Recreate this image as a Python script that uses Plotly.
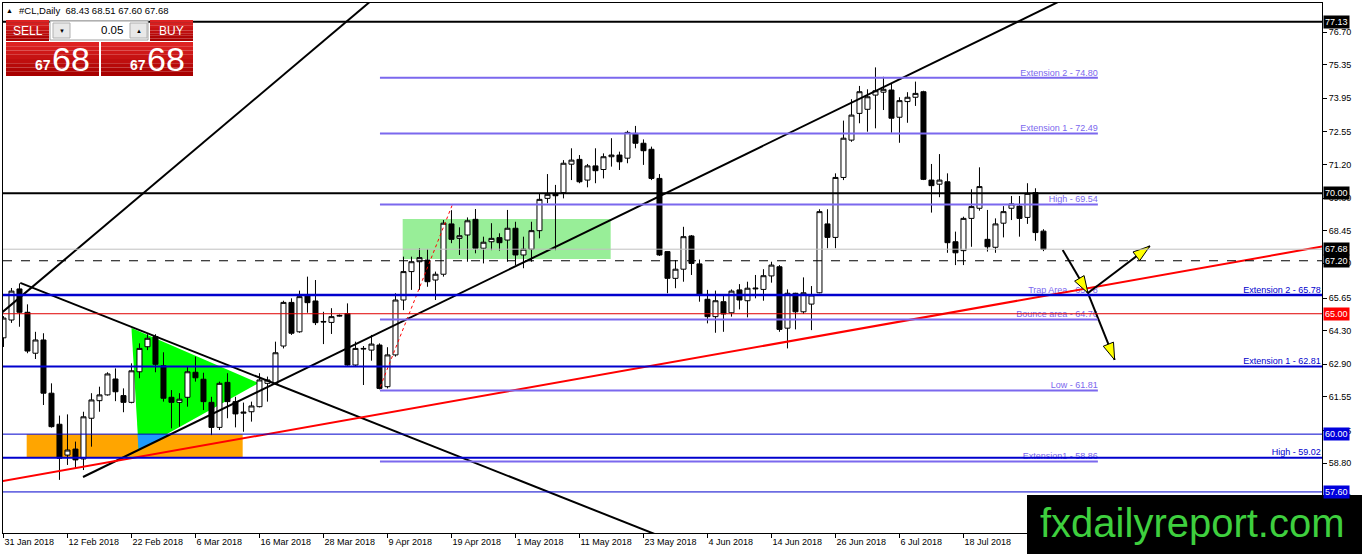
import plotly.graph_objects as go

# #CL daily, one bar per weekday: bar 0 = 31 Jan 2018 ... bar 130 = 1 Aug 2018
opens = [
    64.00, 64.74, 66.03, 65.06, 63.36, 63.91, 61.70, 60.41, 59.13, 59.38,
    58.97, 60.66, 61.39, 61.63, 62.29, 61.60, 61.32, 62.59, 63.63, 64.05,
    62.84, 61.53, 61.32, 61.53, 62.57, 62.28, 61.32, 60.28, 62.15, 61.35,
    60.87, 60.93, 61.14, 62.11, 62.11, 63.66, 65.47, 64.25, 65.78, 65.53,
    64.68, 64.64, 64.90, 65.01, 62.87, 63.56, 63.49, 63.70, 61.97, 63.29,
    65.57, 66.75, 67.16, 67.23, 66.40, 66.64, 68.73, 68.13, 68.27, 68.92,
    67.72, 67.99, 68.16, 68.06, 68.55, 67.44, 67.68, 68.45, 69.79, 69.98,
    70.03, 71.21, 71.41, 70.55, 71.14, 70.99, 71.52, 71.59, 71.46, 72.49,
    72.08, 71.83, 70.62, 67.58, 66.47, 66.85, 68.23, 67.07, 65.60, 64.88,
    65.50, 65.04, 65.99, 65.54, 66.03, 66.01, 66.57, 66.95, 64.40, 65.85,
    65.08, 65.40, 65.87, 68.73, 68.17, 70.66, 72.21, 73.32, 73.49, 74.08,
    74.20, 74.29, 73.16, 73.81, 73.99, 74.22, 70.55, 70.38, 70.48, 67.99,
    67.62, 68.96, 69.38, 68.09, 67.76, 68.76, 69.38, 69.47, 69.00, 70.03,
    68.43,
]
highs = [
    64.90, 66.07, 66.26, 65.39, 64.25, 64.19, 62.11, 60.77, 60.82, 59.69,
    60.93, 61.70, 61.97, 62.57, 62.73, 61.90, 62.94, 63.77, 64.15, 64.15,
    63.40, 61.83, 61.70, 62.80, 63.22, 62.55, 61.55, 62.18, 62.53, 61.55,
    61.31, 61.35, 62.53, 62.39, 63.84, 65.54, 65.64, 65.96, 66.54, 66.40,
    65.08, 65.23, 64.97, 65.43, 63.84, 63.66, 64.12, 63.77, 63.61, 65.85,
    67.37, 67.37, 67.72, 67.68, 66.75, 68.89, 69.30, 68.59, 69.00, 69.35,
    68.20, 68.76, 68.34, 69.31, 68.82, 68.20, 68.82, 70.00, 70.80, 70.35,
    71.38, 71.87, 71.59, 71.22, 71.87, 71.66, 72.29, 71.73, 72.60, 72.80,
    72.24, 71.94, 70.80, 67.58, 67.23, 68.61, 68.27, 67.25, 65.99, 65.96,
    65.78, 66.01, 66.23, 66.33, 66.61, 66.85, 67.16, 67.02, 66.01, 65.87,
    66.51, 66.15, 69.34, 69.34, 70.83, 73.02, 73.91, 74.46, 74.32, 75.23,
    74.84, 74.54, 73.99, 74.20, 74.64, 74.26, 71.22, 71.63, 70.83, 68.41,
    69.03, 70.17, 71.08, 69.31, 68.96, 69.47, 69.89, 69.89, 70.42, 70.21,
    68.51,
]
lows = [
    63.62, 64.62, 64.46, 63.36, 63.12, 61.21, 60.27, 58.10, 58.72, 58.58,
    58.51, 59.48, 60.93, 61.60, 61.37, 60.91, 61.28, 62.32, 63.49, 62.57,
    61.35, 60.24, 60.31, 61.14, 62.18, 61.00, 59.96, 60.17, 60.66, 60.28,
    60.10, 60.52, 61.11, 61.35, 62.04, 63.56, 64.12, 64.21, 65.04, 64.53,
    63.74, 64.16, 64.88, 62.84, 62.83, 62.04, 63.05, 61.86, 61.90, 63.22,
    65.15, 65.99, 65.99, 66.12, 65.57, 66.54, 67.93, 67.44, 67.16, 67.51,
    67.09, 67.64, 67.62, 67.16, 67.02, 66.89, 67.16, 68.13, 69.59, 67.64,
    69.79, 70.55, 70.42, 70.25, 70.42, 70.62, 71.11, 70.97, 71.25, 71.87,
    71.18, 70.55, 67.40, 65.85, 66.06, 66.33, 66.61, 65.50, 64.60, 64.21,
    64.25, 64.88, 65.18, 64.85, 65.64, 65.54, 66.29, 64.25, 63.56, 64.35,
    64.99, 64.32, 65.85, 67.72, 67.72, 70.55, 72.14, 72.91, 72.56, 72.70,
    73.46, 72.52, 72.10, 72.93, 73.63, 70.55, 69.20, 69.84, 67.53, 67.02,
    67.02, 67.78, 69.28, 67.58, 67.53, 68.17, 68.89, 68.20, 68.73, 68.03,
    67.60,
]
closes = [
    64.82, 65.94, 65.06, 63.45, 63.91, 61.70, 60.31, 59.00, 59.34, 58.93,
    60.72, 61.42, 61.63, 62.50, 61.76, 61.32, 62.63, 63.56, 63.98, 62.90,
    61.49, 61.32, 61.45, 62.59, 62.34, 61.35, 60.28, 62.11, 61.35, 60.84,
    60.91, 61.17, 62.25, 62.25, 63.38, 65.47, 64.19, 65.71, 65.46, 64.63,
    64.66, 64.88, 64.93, 62.87, 63.56, 63.54, 63.74, 61.90, 63.29, 65.57,
    66.75, 67.16, 67.33, 66.33, 66.64, 68.76, 68.09, 68.24, 68.86, 67.72,
    67.97, 68.13, 67.95, 68.55, 67.44, 67.68, 68.45, 69.75, 69.96, 69.90,
    71.25, 71.38, 70.48, 71.14, 70.94, 71.52, 71.59, 71.31, 72.53, 72.08,
    71.77, 70.62, 67.44, 66.47, 66.85, 68.20, 67.09, 65.78, 64.88, 65.54,
    64.99, 65.94, 65.57, 66.06, 66.06, 66.58, 67.02, 64.35, 65.85, 65.08,
    65.87, 65.78, 69.24, 68.17, 70.66, 72.29, 73.25, 74.22, 74.01, 74.26,
    74.32, 73.12, 73.85, 73.99, 74.15, 70.58, 70.32, 70.55, 67.95, 67.53,
    68.96, 69.45, 70.28, 67.78, 68.73, 69.24, 69.56, 68.96, 70.00, 68.37,
    67.68,
]
bars = list(range(len(opens)))

tick_bars = [0, 8, 16, 24, 32, 40, 48, 56, 64, 72, 80, 88, 96, 104, 112, 120]
tick_labels = ["31 Jan 2018", "12 Feb 2018", "22 Feb 2018", "6 Mar 2018", "16 Mar 2018",
               "28 Mar 2018", "9 Apr 2018", "19 Apr 2018", "1 May 2018", "11 May 2018",
               "23 May 2018", "4 Jun 2018", "14 Jun 2018", "26 Jun 2018", "6 Jul 2018",
               "18 Jul 2018"]
price_ticks = [76.70, 75.35, 73.95, 72.55, 71.20, 69.80, 68.45, 67.10, 65.65, 64.30,
               62.90, 61.55, 60.15, 58.80, 57.40]

# fib levels (purple, drawn over part of the chart)
fib_levels = [74.80, 72.49, 69.54, 65.78, 64.76, 61.81, 58.86]
fib_names = ["Extension 2", "Extension 1", "High", "Trap Area", "Bounce area", "Low", "Extension1"]
fib_from, fib_to = 47.06, 136.8

# full width levels
blue_levels = [65.78, 62.81, 60.00, 59.02, 57.60]
blue_widths = [2.5, 2, 1, 2, 1]
blue_names = ["Extension 2", "Extension 1", "", "High", ""]
black_levels = [77.13, 70.00]
red_level = 65.00
last_price = 67.68
dash_level = 67.20

tag_prices = [77.13, 70.00, 67.68, 67.20, 65.00, 60.00, 57.60]
tag_colors = ["black", "black", "black", "black", "#ff0000", "#0000dd", "#0000dd"]

# trend lines: [bar, bar], [price, price]
steep_x, steep_y = [-0.4, 46.0], [64.99, 78.01]
fall_x, fall_y = [2.1, 81.5], [66.28, 55.84]
rise_x, rise_y = [9.94, 131.8], [58.22, 77.94]
red_x, red_y = [-0.4, 165.0], [58.03, 67.80]
dots_x, dots_y = [47.1, 56.1], [61.97, 69.52]

# filled zones
orange_x, orange_y = [2.9, 29.9], [59.02, 60.00]
lgreen_x, lgreen_y = [49.9, 75.9], [67.27, 68.93]
tri_x, tri_y = [16.0, 16.9, 31.9], [64.41, 59.35, 62.12]
blue_tri_x, blue_tri_y = [16.75, 20.8, 16.9], [60.00, 60.00, 59.35]

# arrows: start bar, start price, tip bar, tip price
arrows = [
    (132.4, 67.65, 135.56, 65.86),
    (135.56, 65.86, 143.3, 67.81),
    (135.56, 65.86, 138.9, 63.08),
]

# screen geometry of the MT4 window
W, H = 1362, 554
PL, PR, PT, PB = 3, 1322, 3, 533
PX_BAR = 8.0
PX_USD = 24.08
x_lo = -0.06
x_hi = x_lo + (PR - PL) / PX_BAR
y_hi = 76.70 + (32 - PT) / PX_USD
y_lo = 76.70 - (PB - 32) / PX_USD


def pxx(p):
    return (p - PL) / (PR - PL)


def pxy(p):
    return (PB - p) / (PB - PT)


PURPLE = "#7b68ee"
BLUE = "#0000cd"
FONT = "Liberation Sans"

fig = go.Figure()

fig.add_trace(go.Candlestick(
    x=bars, open=opens, high=highs, low=lows, close=closes,
    increasing=dict(line=dict(color="black", width=1), fillcolor="white"),
    decreasing=dict(line=dict(color="black", width=1), fillcolor="black"),
    whiskerwidth=0, showlegend=False, name="#CL"))

# fib labels (as text traces so lines can cross them)
fig.add_trace(go.Scatter(
    x=[fib_to] * len(fib_levels), y=fib_levels, mode="text",
    text=[f"{n} - {v:.2f}" for n, v in zip(fib_names, fib_levels)],
    textposition="top left", textfont=dict(family=FONT, size=9, color=PURPLE),
    showlegend=False, hoverinfo="skip"))
bl = [(n, v) for n, v in zip(blue_names, blue_levels) if n]
fig.add_trace(go.Scatter(
    x=[x_hi - 0.15] * len(bl), y=[v for n, v in bl], mode="text",
    text=[f"{n} - {v:.2f}" for n, v in bl],
    textposition="top left", textfont=dict(family=FONT, size=9, color=BLUE),
    showlegend=False, hoverinfo="skip"))

# trend lines
for lx, ly in [(steep_x, steep_y), (fall_x, fall_y), (rise_x, rise_y)]:
    fig.add_trace(go.Scatter(x=lx, y=ly, mode="lines", line=dict(color="black", width=2),
                             showlegend=False, hoverinfo="skip"))
fig.add_trace(go.Scatter(x=red_x, y=red_y, mode="lines", line=dict(color="#ff0000", width=2),
                         showlegend=False, hoverinfo="skip"))
fig.add_trace(go.Scatter(x=dots_x, y=dots_y, mode="lines",
                         line=dict(color="#ff0000", width=1, dash="dot"),
                         showlegend=False, hoverinfo="skip"))

# arrows with yellow heads
for x0, y0, x1, y1 in arrows:
    dx = (x1 - x0) * PX_BAR
    dy = (y1 - y0) * PX_USD
    n = (dx * dx + dy * dy) ** 0.5
    ux, uy = dx / n, dy / n
    nx, ny = -uy, ux
    L, Wd = 17, 11
    head = [(0, 0), (-L * ux + Wd / 2 * nx, -L * uy + Wd / 2 * ny),
            (-L * ux - Wd / 2 * nx, -L * uy - Wd / 2 * ny), (0, 0)]
    fig.add_trace(go.Scatter(x=[x0, x1], y=[y0, y1], mode="lines",
                             line=dict(color="black", width=2),
                             showlegend=False, hoverinfo="skip"))
    fig.add_trace(go.Scatter(x=[x1 + a / PX_BAR for a, b in head],
                             y=[y1 + b / PX_USD for a, b in head],
                             mode="lines", fill="toself", fillcolor="#ffff00",
                             line=dict(color="black", width=1),
                             showlegend=False, hoverinfo="skip"))

shapes = []
# background zones
shapes.append(dict(type="rect", xref="x", yref="y", x0=orange_x[0], x1=orange_x[1],
                   y0=orange_y[0], y1=orange_y[1], fillcolor="#ffa500", line=dict(width=0),
                   layer="below"))
shapes.append(dict(type="rect", xref="x", yref="y", x0=lgreen_x[0], x1=lgreen_x[1],
                   y0=lgreen_y[0], y1=lgreen_y[1], fillcolor="#98ee98", line=dict(width=0),
                   layer="below"))


def poly(xs, ys):
    return "M " + " L ".join(f"{a},{b}" for a, b in zip(xs, ys)) + " Z"


shapes.append(dict(type="path", xref="x", yref="y", path=poly(tri_x, tri_y),
                   fillcolor="#00ff00", line=dict(width=0), layer="below"))
shapes.append(dict(type="path", xref="x", yref="y", path=poly(blue_tri_x, blue_tri_y),
                   fillcolor="#1e9bff", line=dict(width=0), layer="below"))

# horizontal levels
shapes.append(dict(type="line", xref="paper", yref="y", x0=0, x1=1, y0=last_price, y1=last_price,
                   line=dict(color="#c0c0c0", width=1), layer="above"))
shapes.append(dict(type="line", xref="paper", yref="y", x0=0, x1=1, y0=dash_level, y1=dash_level,
                   line=dict(color="black", width=1, dash="dash"), layer="above"))
for v in fib_levels:
    shapes.append(dict(type="line", xref="x", yref="y", x0=fib_from, x1=fib_to, y0=v, y1=v,
                       line=dict(color=PURPLE, width=2), layer="above"))
shapes.append(dict(type="line", xref="paper", yref="y", x0=0, x1=1, y0=red_level, y1=red_level,
                   line=dict(color="#e00000", width=1), layer="above"))
for v, w in zip(blue_levels, blue_widths):
    shapes.append(dict(type="line", xref="paper", yref="y", x0=0, x1=1, y0=v, y1=v,
                       line=dict(color=BLUE, width=w), layer="above"))
for v in black_levels:
    shapes.append(dict(type="line", xref="paper", yref="y", x0=0, x1=1, y0=v, y1=v,
                       line=dict(color="black", width=2), layer="above"))


def box(x0, y0, x1, y1, color, border=None):
    shapes.append(dict(type="rect", xref="paper", yref="paper",
                       x0=pxx(x0), x1=pxx(x1), y0=pxy(y1), y1=pxy(y0),
                       fillcolor=color, line=dict(width=1 if border else 0, color=border or color),
                       layer="above"))


def red_box(x0, y0, x1, y1):
    steps = 8
    top, bot = (222, 34, 34), (168, 0, 0)
    for i in range(steps):
        t = i / (steps - 1)
        c = tuple(int(top[j] + (bot[j] - top[j]) * t) for j in range(3))
        a = y0 + (y1 - y0) * i / steps
        b = y0 + (y1 - y0) * (i + 1) / steps
        box(x0, a, x1, b, "rgb(%d,%d,%d)" % c)


# one-click trading panel
red_box(6, 20, 49, 41)
red_box(150, 20, 193, 41)
box(50, 21, 148, 40, "white", "#a0a0a0")
box(53, 23, 70, 38, "#e8e8e8", "#b0b0b0")
box(130, 23, 147, 38, "#e8e8e8", "#b0b0b0")
red_box(6, 42, 99, 76)
red_box(101, 42, 193, 76)

# watermark
shapes.append(dict(type="rect", xref="paper", yref="paper", x0=pxx(1027), x1=pxx(1362),
                   y0=pxy(554), y1=pxy(495), fillcolor="black", line=dict(width=0),
                   layer="above"))

ann = []


def label(px, py, text, size, color="black", xanchor="left", bold=False, family=FONT):
    if bold:
        text = "<b>" + text + "</b>"
    ann.append(dict(xref="paper", yref="paper", x=pxx(px), y=pxy(py), text=text,
                    showarrow=False, xanchor=xanchor, yanchor="middle",
                    font=dict(family=family, size=size, color=color)))


label(9.5, 11, "▲", 7, xanchor="center")
label(17, 11, f"#CL,Daily  {opens[-1]:.2f} {highs[-1]:.2f} {lows[-1]:.2f} {closes[-1]:.2f}", 9.5)
label(27.5, 31, "SELL", 12, "white", "center")
label(171.5, 31, "BUY", 12, "white", "center")
label(125, 30, "0.05", 11.5, "black", "right")
label(61.5, 30.5, "▼", 6, "black", "center")
label(138.5, 30.5, "▲", 6, "black", "center")
big, small = f"{closes[-1]:.2f}".split(".")
for x_small, x_big in [(33, 50), (128, 145)]:
    label(x_small, 65, big, 14, "white", bold=True)
    label(x_big, 59, small, 34, "white")
label(1192, 523, "fxdailyreport.com", 40, "#3ecf3e", "center")

# price tags on the axis
for v, c in zip(tag_prices, tag_colors):
    ann.append(dict(xref="paper", yref="y", x=pxx(1323), y=v, text=f"{v:.2f}",
                    showarrow=False, xanchor="left", yanchor="middle", bgcolor=c,
                    borderpad=1, font=dict(family=FONT, size=9, color="white")))

fig.update_layout(
    width=W, height=H, autosize=False,
    margin=dict(l=PL, r=W - PR, t=PT, b=H - PB, pad=0),
    paper_bgcolor="white", plot_bgcolor="white",
    showlegend=False, boxgap=0.375, boxgroupgap=0,
    font=dict(family=FONT, size=9, color="black"),
    shapes=shapes, annotations=ann,
    xaxis=dict(range=[x_lo, x_hi], tickvals=tick_bars, ticktext=tick_labels,
               ticks="outside", ticklen=4, tickcolor="black", ticklabelposition="outside right",
               showline=True, linecolor="black", linewidth=1, mirror=True,
               showgrid=False, zeroline=False, rangeslider=dict(visible=False),
               automargin=False, tickfont=dict(family=FONT, size=9)),
    yaxis=dict(range=[y_lo, y_hi], side="right", tickvals=price_ticks,
               ticktext=[f"{v:.2f}" for v in price_ticks],
               ticks="outside", ticklen=4, tickcolor="black",
               showline=True, linecolor="black", linewidth=1, mirror=True,
               showgrid=False, zeroline=False, automargin=False,
               tickfont=dict(family=FONT, size=9)),
)

# the page body has a default 8px margin; drop it so the chart fills the window
fig.write_html("out.html", config={"displayModeBar": False},
               post_script="document.body.style.margin='0px';")
